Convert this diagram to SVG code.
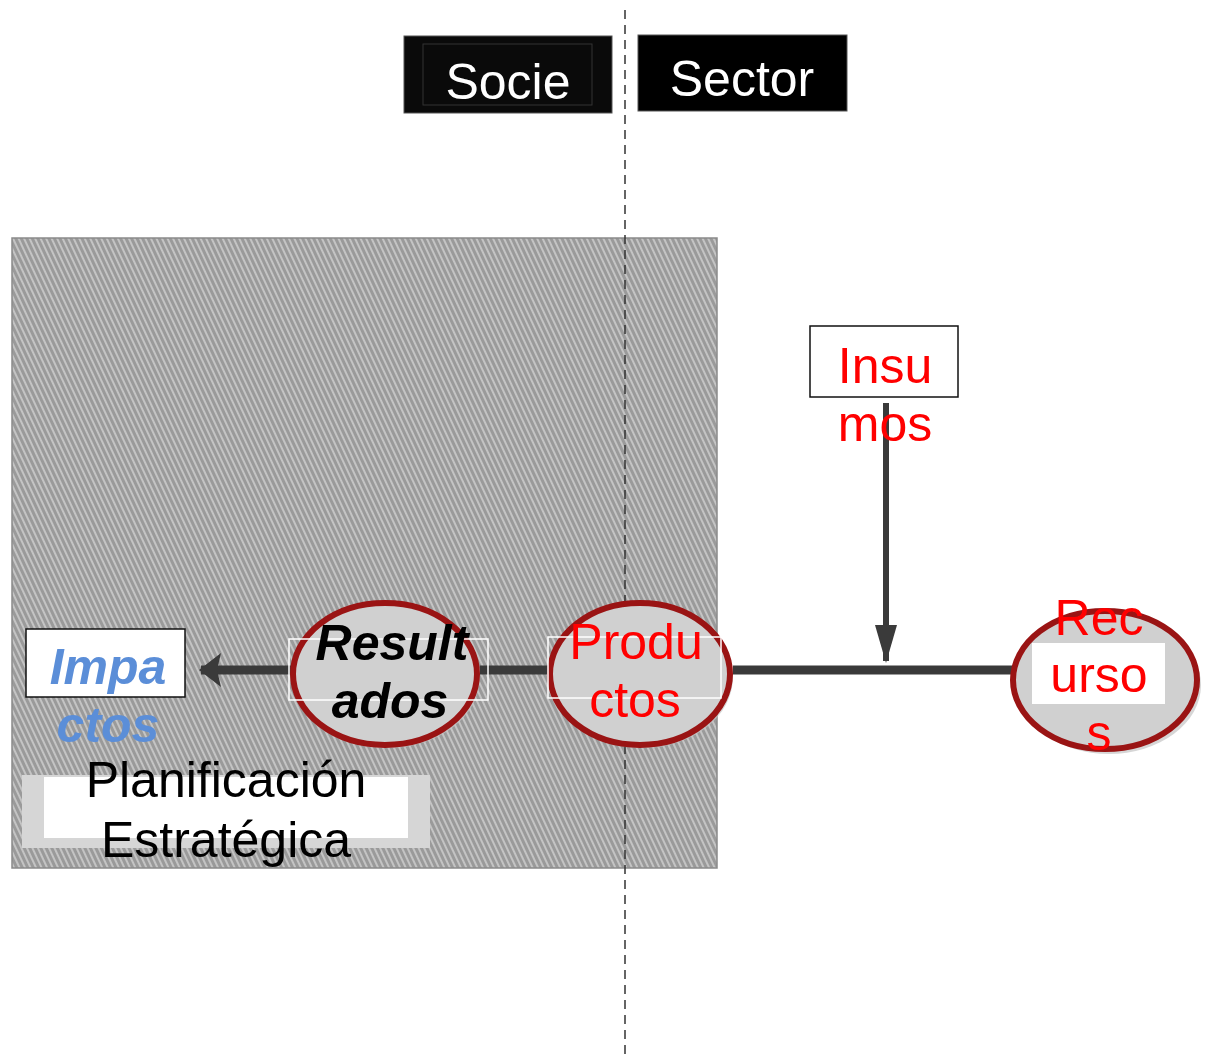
<svg xmlns="http://www.w3.org/2000/svg" width="1205" height="1057" viewBox="0 0 1205 1057">
<style>
text{font-family:"Liberation Sans",Arial,sans-serif;font-size:50px;text-anchor:middle}
.red{fill:#ff0000}
.wh{fill:#ffffff}
.bi{font-weight:bold;font-style:italic}
.node{fill:#d0d0d0;stroke:#9a1414;stroke-width:6}
.shadow{fill:#c4c4c4;opacity:.7}
.conn{stroke:#3a3a3a;fill:none}
</style>
<defs>
<pattern id="hatch" patternUnits="userSpaceOnUse" width="5" height="5" patternTransform="rotate(-25)">
<rect width="5" height="5" fill="#9a9a9a"/>
<rect width="2" height="5" fill="#c4c4c4"/>
</pattern>
<marker id="ah" viewBox="0 0 22 34" refX="20" refY="17" markerWidth="22" markerHeight="34" orient="auto" markerUnits="userSpaceOnUse">
<path d="M0,0 L22,17 L0,34 L4,17 Z" fill="#3a3a3a"/>
</marker>
<marker id="ah2" viewBox="0 0 38 22" refX="36" refY="11" markerWidth="38" markerHeight="22" orient="auto" markerUnits="userSpaceOnUse">
<path d="M0,0 L38,11 L0,22 Z" fill="#3a3a3a"/>
</marker>
</defs>
<rect width="1205" height="1057" fill="#ffffff"/>
<g id="region">
<rect x="12" y="238" width="705" height="630" fill="url(#hatch)" stroke="#8a8a8a" stroke-width="1.5"/>
</g>
<line x1="625" y1="10" x2="625" y2="1055" stroke="#333" stroke-width="1.5" stroke-dasharray="9,6"/>
<g id="socie">
<rect x="404" y="36" width="208" height="77" fill="#0a0a0a" stroke="#555" stroke-width="1"/>
<rect x="423" y="44" width="169" height="61" fill="none" stroke="#333" stroke-width="1"/>
<text x="508" y="99" class="wh">Socie</text>
</g>
<g id="sector">
<rect x="638" y="35" width="209" height="76" fill="#000" stroke="#555" stroke-width="1"/>
<text x="742" y="96" class="wh">Sector</text>
</g>
<g id="connectors">
<line x1="1012" y1="670" x2="733" y2="670" class="conn" stroke-width="9"/>
<line x1="548" y1="670" x2="480" y2="670" class="conn" stroke-width="9"/>
<line x1="292" y1="670" x2="201" y2="670" class="conn" stroke-width="9" marker-end="url(#ah)"/>
<line x1="886" y1="403" x2="886" y2="661" class="conn" stroke-width="6" marker-end="url(#ah2)"/>
</g>
<g id="insumos">
<rect x="810" y="326" width="148" height="71" fill="#fff" stroke="#111" stroke-width="1.5"/>
<text x="885" y="383" class="red">Insu</text>
<text x="885" y="441" class="red">mos</text>
</g>
<g id="resultados">
<ellipse cx="388" cy="677" rx="92" ry="71" class="shadow"/>
<ellipse cx="385" cy="674" rx="92" ry="71" class="node"/>
<rect x="289" y="639" width="199" height="61" fill="none" stroke="#fff" stroke-width="1.5"/>
<text x="392" y="660" class="bi">Result</text>
<text x="390" y="718" class="bi">ados</text>
</g>
<g id="productos">
<ellipse cx="643" cy="677" rx="90" ry="71" class="shadow"/>
<ellipse cx="640" cy="674" rx="90" ry="71" class="node"/>
<rect x="548" y="637" width="173" height="61" fill="none" stroke="#fff" stroke-width="1.5"/>
<text x="636" y="659" class="red">Produ</text>
<text x="635" y="717" class="red">ctos</text>
</g>
<g id="recursos">
<ellipse cx="1109" cy="685" rx="92" ry="69" class="shadow"/>
<ellipse cx="1105" cy="680" rx="92" ry="69" class="node"/>
<rect x="1032" y="643" width="133" height="61" fill="#fff"/>
<text x="1099" y="635" class="red">Rec</text>
<text x="1099" y="692" class="red">urso</text>
<text x="1099" y="750" class="red">s</text>
</g>
<g id="impactos">
<rect x="26" y="629" width="159" height="68" fill="#fff" stroke="#111" stroke-width="1.5"/>
<text x="108" y="684" class="bi" fill="#5b8ed8">Impa</text>
<text x="108" y="742" class="bi" fill="#5b8ed8">ctos</text>
</g>
<g id="planificacion">
<rect x="22" y="775" width="408" height="73" fill="#d6d6d6"/>
<rect x="44" y="777" width="364" height="61" fill="#fff"/>
<text x="226" y="797">Planificación</text>
<text x="226" y="857">Estratégica</text>
</g>
</svg>
